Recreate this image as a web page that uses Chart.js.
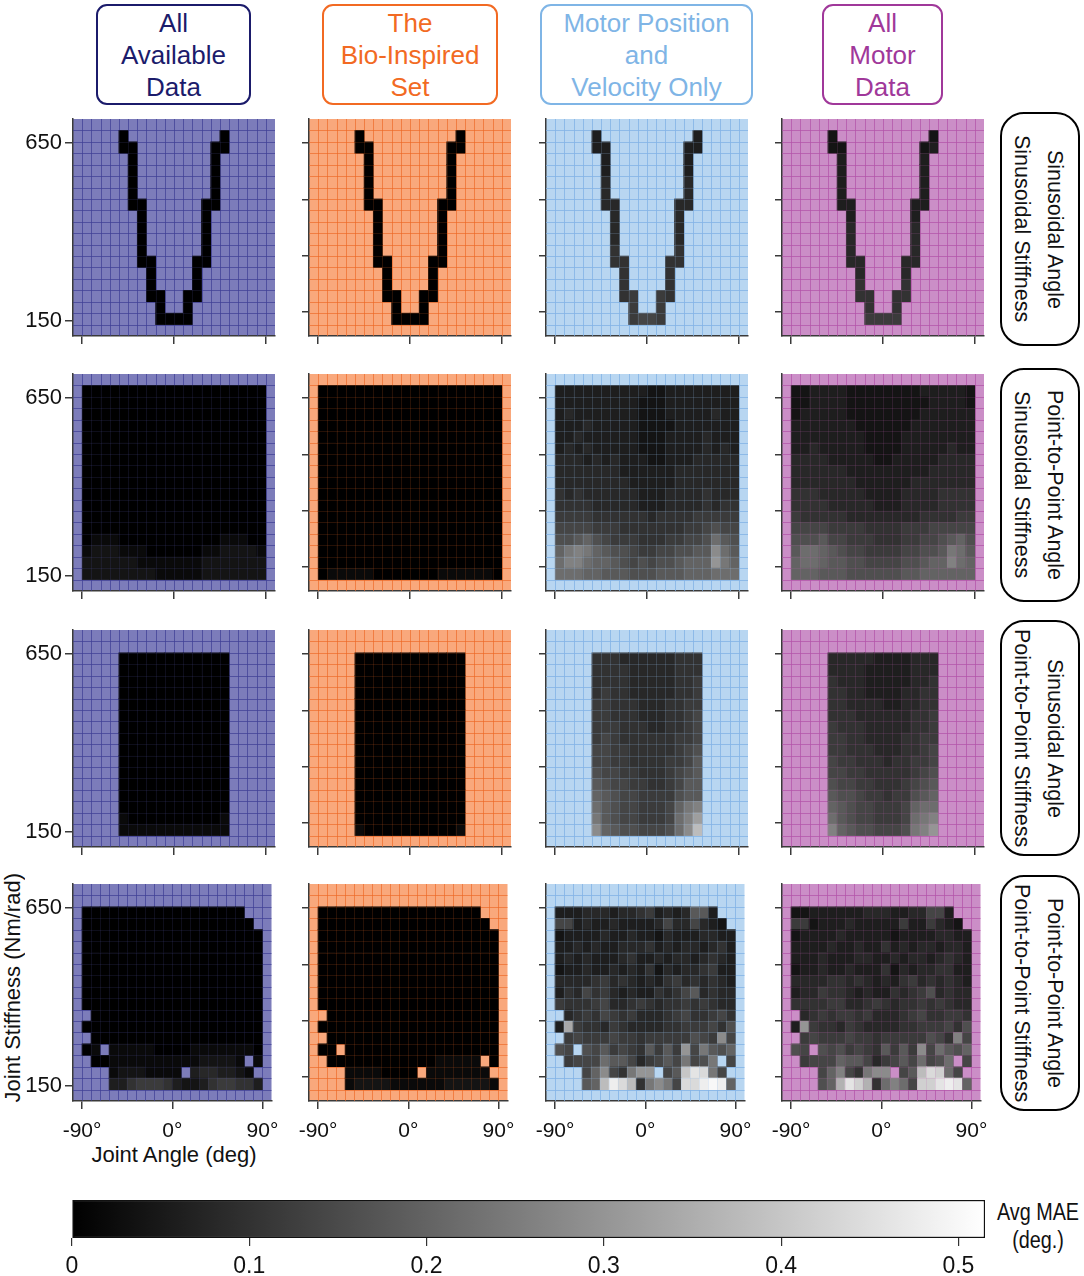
<!DOCTYPE html>
<html><head><meta charset="utf-8">
<script src="https://cdn.jsdelivr.net/npm/chart.js@4.4.1/dist/chart.umd.min.js"></script>
<style>
body{margin:0;background:#fff;width:1084px;height:1276px;position:relative;overflow:hidden;font-family:'Liberation Sans',Arial,sans-serif;}
.hdr{position:absolute;box-sizing:border-box;top:4px;height:101px;border:2px solid;border-radius:11px;text-align:center;font-size:26px;line-height:32px;padding-top:1px;white-space:nowrap;}
.rl{position:absolute;box-sizing:border-box;left:1000px;width:80px;border:2px solid #000;border-radius:24px;display:flex;align-items:center;justify-content:center;padding-right:4px;}
.rl span{writing-mode:vertical-rl;font-size:21.5px;line-height:33px;text-align:center;color:#111;white-space:nowrap;}
.pc{position:absolute;}
.lbl{position:absolute;color:#111;white-space:nowrap;}
</style></head><body>

<div class="hdr" style="left:96px;width:155px;color:#1b1b6b;border-color:#1b1b6b;">All<br>Available<br>Data</div>
<div class="hdr" style="left:322px;width:176px;color:#f26a23;border-color:#f26a23;">The<br>Bio-Inspired<br>Set</div>
<div class="hdr" style="left:540px;width:213px;color:#7fb5e6;border-color:#7fb5e6;">Motor Position<br>and<br>Velocity Only</div>
<div class="hdr" style="left:822px;width:121px;color:#a0389a;border-color:#a0389a;">All<br>Motor<br>Data</div>

<div class="rl" style="top:112px;height:234px;"><span>Sinusoidal Angle<br>Sinusoidal Stiffness</span></div>
<div class="rl" style="top:368px;height:234px;"><span>Point-to-Point Angle<br>Sinusoidal Stiffness</span></div>
<div class="rl" style="top:620px;height:236px;"><span>Sinusoidal Angle<br>Point-to-Point Stiffness</span></div>
<div class="rl" style="top:875px;height:236px;"><span>Point-to-Point Angle<br>Point-to-Point Stiffness</span></div>

<div class="lbl" style="left:0;top:875px;width:26px;height:226px;display:flex;align-items:center;justify-content:center;"><span style="writing-mode:vertical-rl;transform:rotate(180deg);font-size:22px;">Joint Stiffness (Nm/rad)</span></div>
<div class="lbl" style="left:73px;width:202px;top:1142px;text-align:center;font-size:22px;line-height:26px;">Joint Angle (deg)</div>
<div class="lbl" style="left:988px;width:100px;top:1198px;text-align:center;font-size:23px;line-height:28px;font-family:'Liberation Sans Narrow','Liberation Sans',Arial;transform:scaleX(0.86);">Avg MAE<br>(deg.)</div>

<script>
// ---------- data ----------
const angles = [-85.5,-76.5,-67.5,-58.5,-49.5,-40.5,-31.5,-22.5,-13.5,-4.5,4.5,13.5,22.5,31.5,40.5,49.5,58.5,67.5,76.5,85.5];
const stiffness = [156,188,220,252,284,316,348,380,412,444,476,508,540,572,604,636,668];
const angleTicks = [-90,0,90];
const stiffTicksLabeled = [150,650];
const stiffTicksPlain = [175,332,491,650];
const maeTicks = [0,0.1,0.2,0.3,0.4,0.5];
const maeScaleMax = 0.515;
// one char per cell, rows listed from highest stiffness to lowest; '.' = no data; level*0.02 deg
const LEVELS = '0123456789abcdefghijklmnop';
const LEVEL_STEP = 0.02;

const maeSinSinAll = [
"....0..........0....","....00........00....",".....0........0.....",".....0........0.....",
".....0........0.....",".....0........0.....",".....00......00.....","......0......0......",
"......0......0......","......0......0......","......0......0......","......00....00......",
".......0....0.......",".......0....0.......",".......00..00.......","........0..0........",
"........0000........"];
const maeSinSinBio = [
"....0..........0....","....00........00....",".....0........0.....",".....0........0.....",
".....0........0.....",".....0........0.....",".....00......00.....","......0......0......",
"......0......0......","......0......0......","......0......0......","......00....00......",
".......0....0.......",".......0....0.......",".......00..00.......","........0..0........",
"........0000........"];
const maeSinSinMotorPV = [
"....3..........3....","....33........33....",".....3........3.....",".....3........3.....",
".....4........4.....",".....4........4.....",".....44......44.....","......4......4......",
"......4......4......","......4......4......","......5......5......","......55....55......",
".......5....5.......",".......5....5.......",".......56..65.......","........6..6........",
"........6776........"];
const maeSinSinMotorAll = [
"....2..........2....","....22........23....",".....3........3.....",".....3........3.....",
".....3........3.....",".....3........3.....",".....33......33.....","......3......3......",
"......4......4......","......4......4......","......4......4......","......44....44......",
".......4....4.......",".......5....5.......",".......55..55.......","........5..5........",
"........6666........"];

const maeP2pSinAll = [
"00000000000000000000","00000000000000000000","00000000000000000000","00000000000000000000",
"00000000000000000000","00000000000000000000","00000000000000000000","00000000000000000000",
"00000000000000000000","00000000000000000000","00000000000000000000","00000000000000000000",
"00000000000000000000","01110000000000011100","12221110000001122221","22222211111112222222",
"22222222111112222222"];
const maeP2pSinBio = [
"00000000000000000000","00000000000000000000","00000000000000000000","00000000000000000000",
"00000000000000000000","00000000000000000000","00000000000000000000","00000000000000000000",
"00000000000000000000","00000000000000000000","00000000000000000000","00000000000000000000",
"00000000000000000000","00000000000000000000","00000000000000000000","00000000000000000000",
"01111100000001111110"];
const maeP2pSinMotorPV = [
"33333333332233333333","33333333322233333333","34333333322233333433","33343333322223333333",
"33433333322233334333","34343333322233334343","44434343332233344444","44444443333334444444",
"44444444333334444444","54544444433344445444","55554444433344445455","66665555554555566666",
"77776665555555667877","889a8766655566778b98","acdca988766778899eb9","bddbaa98787889aaafca",
"bbbaa999888999aaabbb"];
const maeP2pSinMotorAll = [
"22333322222222333332","22333322222222233332","23333322222222333333","33333332222223333333",
"33333333222233333333","33433333222233333433","44443333322333334444","44444433333333344444",
"44444443333334444444","55544444333344445555","55554444433344445555","65555544444444555566",
"77776666555566677777","888977666555667789a8","9bba9877666677889cb9","abba99887777889aadba",
"aaa99988888899aaaaaa"];

const maeSinP2pAll = [
"....................","....000000000000....","....000000000000....","....000000000000....",
"....000000000000....","....000000000000....","....000000000000....","....000000000000....",
"....000000000000....","....000000000000....","....000000000000....","....000000000000....",
"....000000000000....","....000000000000....","....000000000000....","....100000000001....",
"....111111111111...."];
const maeSinP2pBio = [
"....................","....000000000000....","....000000000000....","....000000000000....",
"....000000000000....","....000000000000....","....000000000000....","....000000000000....",
"....000000000000....","....000000000000....","....000000000000....","....000000000000....",
"....000000000000....","....000000000000....","....000000000000....","....000000000000....",
"....100000000001...."];
const maeSinP2pMotorPV = [
"....................","....555444444555....","....555544444555....","....555544444556....",
"....565544444556....","....665554445566....","....665554445567....","....666555445567....",
"....676555555667....","....776655555678....","....776655556679....","....877665556789....",
"....987766556799....","....a98776666899....","....b98776667acd....","....c98776667bdg....",
"....ea9887778bej...."];
const maeSinP2pMotorAll = [
"....................","....444443333444....","....444433333444....","....544433333445....",
"....554433334455....","....554444334455....","....555444444556....","....655544444556....",
"....665544445566....","....665554445567....","....766555455667....","....776655555678....",
"....877665556789....","....98876656689a....","....a98776667abb....","....b98776667bcd....",
"....da9887778cdf...."];

const maeP2pP2pAll = [
"....................","000000000000000000..","0000000000000000000.","00000000000000000000",
"00000000000000000000","00000000000000000000","00000000000000000000","00000000000000000000",
"00000000000000000000","00000000000000000000",".0000000000000000000","00000000000000000000",
".0000000000000000000","01.11111000011111110",".00111111111122221.1","...12221111.3443321.",
"...33566653223566553"];
const maeP2pP2pBio = [
"....................","000000000000000000..","0000000000000000000.","00000000000000000000",
"00000000000000000000","00000000000000000000","00000000000000000000","00000000000000000000",
"00000000000000000000","00000000000000000000",".0000000000000000000","00000000000000000000",
".0000000000000000000","00.00000000000000000",".00000000000011111.0","...11110000.1111111.",
"...12222111111222221"];
const maeP2pP2pMotorPV = [
"....................","333444344563434993..","7734334333347447432.","23333433433243334433",
"33434334445343443453","34343334533434434543","23343343435243445633","44445645434356454543",
"35475643433545794544","65556744565455656544",".4565765644456755675","3h655465444455666758",
".67666766566666876e7","87.87967659696f7c98a",".6777b99746797c78c.7","...7ae75cff.79knmc7.",
"...9ajomj5cec7mmopoa"];
const maeP2pP2pMotorAll = [
"....................","223333334443344773..","6623334333336336432.","23333433333233334433",
"33334334335343443443","33343334433434434543","23343343335243445533","44445545434356454543",
"34465543433545684544","55556644565455656544",".4565665644456755665","3f655465444455666758",
".67666766566666875d7","87.87867659696e7b98a",".6777a99746797b78b.7","...7ad75cee.79jmlb7.",
"...8ainli5bdb7llnona"];

// ---------- layout / style ----------
const panels = [
  [maeSinSinAll, maeSinSinBio, maeSinSinMotorPV, maeSinSinMotorAll],
  [maeP2pSinAll, maeP2pSinBio, maeP2pSinMotorPV, maeP2pSinMotorAll],
  [maeSinP2pAll, maeSinP2pBio, maeSinP2pMotorPV, maeSinP2pMotorAll],
  [maeP2pP2pAll, maeP2pP2pBio, maeP2pP2pMotorPV, maeP2pP2pMotorAll]
];
panels.forEach((row, r) => row.forEach((g, c) => {
  if (g.length !== stiffness.length) throw new Error('rows ' + r + ',' + c);
  g.forEach((s, k) => { if (s.length !== angles.length) throw new Error('len ' + r + ',' + c + ',' + k + ':' + s.length); });
}));

const colLeft = [73, 309, 546, 782];
const rowTop = [119, 374, 630, 884];
const PW = 202, PH = 217, PADT = 22;
const colBg = ['#7c7cba', '#f9a87c', '#b8d6f1', '#cb8ec7'];
const colLine = ['rgba(48,48,140,0.6)', 'rgba(236,104,38,0.6)', 'rgba(120,172,228,0.7)', 'rgba(172,72,162,0.6)'];
const colLineFaint = ['rgba(90,90,170,0.16)', 'rgba(236,104,38,0.16)', 'rgba(150,190,235,0.2)', 'rgba(190,100,180,0.16)'];
const FONT = "'Liberation Sans', Arial, sans-serif";
const NARROW = "'Liberation Sans Narrow', 'Liberation Sans', Arial, sans-serif";
const AX = '#3a3a3a';

function gray(v) {
  const g = Math.round(Math.max(0, Math.min(1, v / maeScaleMax)) * 255);
  return 'rgb(' + g + ',' + g + ',' + g + ')';
}

const aStep = angles[1] - angles[0];
const sStep = stiffness[1] - stiffness[0];
const xMin = angles[0] - 1.5 * aStep, xMax = angles[angles.length - 1] + 1.5 * aStep;
const yMin = stiffness[0] - 1.5 * sStep, yMax = stiffness[stiffness.length - 1] + 1.5 * sStep;

function drawGrid(chart, color) {
  const a = chart.chartArea, ctx = chart.ctx, xs = chart.scales.x, ys = chart.scales.y;
  ctx.save(); ctx.strokeStyle = color; ctx.lineWidth = 1;
  ctx.beginPath();
  for (let i = 0; i <= angles.length; i++) {
    const px = Math.round(xs.getPixelForValue(angles[0] - aStep / 2 + i * aStep)) + 0.5;
    ctx.moveTo(px, a.top); ctx.lineTo(px, a.bottom);
  }
  for (let j = 0; j <= stiffness.length; j++) {
    const py = Math.round(ys.getPixelForValue(stiffness[0] - sStep / 2 + j * sStep)) + 0.5;
    ctx.moveTo(a.left, py); ctx.lineTo(a.right, py);
  }
  ctx.stroke(); ctx.restore();
}

const panelDeco = {
  id: 'panelDeco',
  beforeDraw(chart, args, opts) {
    const a = chart.chartArea, ctx = chart.ctx;
    ctx.save(); ctx.fillStyle = opts.bg;
    ctx.fillRect(a.left, a.top, a.right - a.left, a.bottom - a.top);
    ctx.restore();
  },
  beforeDatasetsDraw(chart, args, opts) { drawGrid(chart, opts.line); },
  afterDatasetsDraw(chart, args, opts) { drawGrid(chart, opts.faint); }
};

panels.forEach((row, r) => row.forEach((grid, c) => {
  const xh = r === 3 ? 50 : 20;
  const W = 72 + PW + 14, H = PADT + PH + xh;
  const div = document.createElement('div');
  div.className = 'pc';
  div.style.left = (colLeft[c] - 72) + 'px';
  div.style.top = (rowTop[r] - PADT) + 'px';
  const cv = document.createElement('canvas');
  cv.width = W; cv.height = H; cv.style.width = W + 'px'; cv.style.height = H + 'px';
  div.appendChild(cv); document.body.appendChild(div);

  const pts = [], colors = [];
  grid.forEach((line, k) => {
    const s = stiffness[stiffness.length - 1 - k];
    [...line].forEach((ch, i) => {
      if (ch === '.') return;
      const v = LEVELS.indexOf(ch) * LEVEL_STEP;
      pts.push({ x: angles[i], y: [s - sStep / 2, s + sStep / 2] });
      colors.push(gray(v));
    });
  });

  new Chart(cv, {
    type: 'bar',
    data: { datasets: [{ data: pts, backgroundColor: colors, borderWidth: 0, barPercentage: 1, categoryPercentage: 1 }] },
    options: {
      responsive: false, animation: false, events: [],
      layout: { padding: { left: 0, top: PADT, right: 14, bottom: 0 } },
      plugins: { legend: { display: false }, tooltip: { enabled: false }, panelDeco: { bg: colBg[c], line: colLine[c], faint: colLineFaint[c] } },
      scales: {
        x: {
          type: 'linear', min: xMin, max: xMax, offset: false,
          afterBuildTicks: s => { s.ticks = angleTicks.map(v => ({ value: v })); },
          afterFit: s => { s.height = xh; },
          grid: { drawOnChartArea: false, drawTicks: true, tickLength: 8, color: AX, lineWidth: 1.5, offset: false },
          border: { display: true, color: AX, width: 1.5 },
          ticks: { display: r === 3, padding: 10, autoSkip: false, maxRotation: 0, color: '#111', font: { size: 21, family: FONT }, callback: v => v + '°' }
        },
        y: {
          type: 'linear', min: yMin, max: yMax,
          afterBuildTicks: s => { s.ticks = (c === 0 ? stiffTicksLabeled : stiffTicksPlain).map(v => ({ value: v })); },
          afterFit: s => { s.width = 72; },
          grid: { drawOnChartArea: false, drawTicks: true, tickLength: c === 0 ? 8 : 7, color: AX, lineWidth: 1.5 },
          border: { display: true, color: AX, width: 1.5 },
          ticks: { display: c === 0, padding: 3, color: '#111', font: { size: 22, family: FONT }, callback: v => String(v) }
        }
      }
    },
    plugins: [panelDeco]
  });
}));

// ---------- colour bar ----------
const cbDiv = document.createElement('div');
cbDiv.className = 'pc'; cbDiv.style.left = '40px'; cbDiv.style.top = '1195px';
const cb = document.createElement('canvas');
cb.width = 1000; cb.height = 81; cb.style.width = '1000px'; cb.style.height = '81px';
cbDiv.appendChild(cb); document.body.appendChild(cbDiv);

new Chart(cb, {
  type: 'bar',
  data: { labels: ['Avg MAE'], datasets: [{
    data: [[0, maeScaleMax]],
    backgroundColor: (ctx) => {
      const ch = ctx.chart;
      if (!ch.chartArea) return '#888';
      const x0 = ch.scales.x.getPixelForValue(0), x1 = ch.scales.x.getPixelForValue(maeScaleMax);
      const g = ch.ctx.createLinearGradient(x0, 0, x1, 0);
      g.addColorStop(0, gray(0)); g.addColorStop(1, gray(maeScaleMax));
      return g;
    },
    borderColor: '#111', borderWidth: 1.5, borderSkipped: false, barPercentage: 1, categoryPercentage: 1
  }] },
  options: {
    indexAxis: 'y', responsive: false, animation: false, events: [],
    layout: { padding: { left: 32, right: 55, top: 5, bottom: 0 } },
    plugins: { legend: { display: false }, tooltip: { enabled: false } },
    scales: {
      y: { display: false },
      x: {
        type: 'linear', min: 0, max: maeScaleMax,
        afterBuildTicks: s => { s.ticks = maeTicks.map(v => ({ value: v })); },
        afterFit: s => { s.height = 38; },
        grid: { drawOnChartArea: false, drawTicks: true, tickLength: 8, color: '#333', lineWidth: 1.2 },
        border: { display: false },
        ticks: { padding: 7, autoSkip: false, maxRotation: 0, color: '#111', font: { size: 23, family: NARROW }, callback: v => v === 0 ? '0' : v.toFixed(1) }
      }
    }
  }
});
</script>
</body></html>
